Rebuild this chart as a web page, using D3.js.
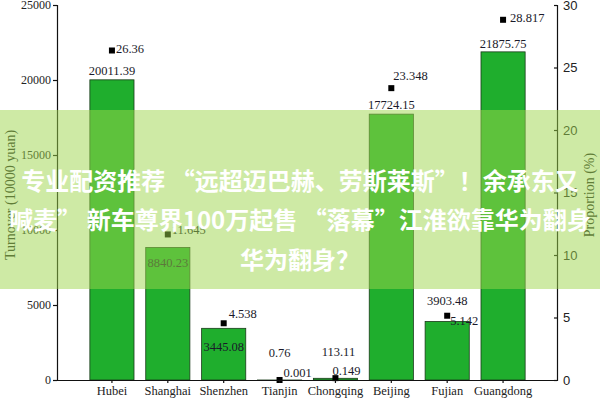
<!DOCTYPE html>
<html>
<head>
<meta charset="utf-8">
<script src="https://d3js.org/d3.v7.min.js"></script>
<style>
  body { margin: 0; background: #fff; }
  svg { display: block; }
  .tick text { fill: #222; }
</style>
</head>
<body>
<div id="chart"></div>
<script>
// data
const regions = ['Hubei', 'Shanghai', 'Shenzhen', 'Tianjin', 'Chongqing', 'Beijing', 'Fujian', 'Guangdong'];
const turnover = [20011.39, 8840.23, 3445.08, 0.76, 113.11, 17724.15, 3903.48, 21875.75];
const proportion = [26.36, 11.645, 4.538, 0.001, 0.149, 23.348, 5.142, 28.817];
const leftTicks = [0, 5000, 10000, 15000, 20000, 25000];
const rightTicks = [0, 5, 10, 15, 20, 25, 30];
const bannerLines = [
    '专业配资推荐 “远超迈巴赫、劳斯莱斯”！余承东又',
    '喊麦” 新车尊界100万起售 “落幕”江淮欲靠华为翻身',
    '华为翻身？'
];

// label nudges (the original placed them by hand)
const barLabelDx = [0, 0, 0, 0, 3, 0, 0, 0];
const barLabelDy = [-5, 20, 23, -23, -22, -5, -16, -4];
const ptLabelDx = [4, 4, 5, 4, -3, 2, 3, 7];
const ptLabelDy = [2, 0, -5, -3, -3, -8, 9, 2];

const width = 600, height = 400;
const plotLeft = 57, plotRight = 557, plotTop = 5, plotBottom = 380;

const svg = d3.select('#chart').append('svg')
    .attr('width', width)
    .attr('height', height);

const x = d3.scaleBand()
    .domain(regions)
    .range([84, 531])
    .paddingInner(0.21)
    .paddingOuter(0.105);

const yL = d3.scaleLinear().domain([0, 25000]).range([plotBottom, plotTop]);
const yR = d3.scaleLinear().domain([0, 30]).range([plotBottom, plotTop]);

const serif = '"Liberation Serif", "Times New Roman", serif';

// bars
svg.append('g')
    .selectAll('rect')
    .data(turnover)
    .join('rect')
    .attr('x', (d, i) => x(regions[i]))
    .attr('y', d => yL(d))
    .attr('width', x.bandwidth())
    .attr('height', d => plotBottom - yL(d))
    .attr('fill', '#1fae2d')
    .attr('stroke', '#1a3a1a')
    .attr('stroke-width', 0.8);

// bar value labels
svg.append('g')
    .selectAll('text')
    .data(turnover)
    .join('text')
    .attr('x', (d, i) => x(regions[i]) + x.bandwidth() / 2 + barLabelDx[i])
    .attr('y', (d, i) => yL(d) + barLabelDy[i])
    .attr('text-anchor', 'middle')
    .style('font-family', serif)
    .style('font-size', '12.5px')
    .attr('fill', '#1a1a2a')
    .text(d => d3.format('.2f')(d));

// proportion squares
svg.append('g')
    .selectAll('rect')
    .data(proportion)
    .join('rect')
    .attr('x', (d, i) => x(regions[i]) + x.bandwidth() / 2 - 3)
    .attr('y', d => yR(d) - 3)
    .attr('width', 6)
    .attr('height', 6)
    .attr('fill', '#000');

svg.append('g')
    .selectAll('text')
    .data(proportion)
    .join('text')
    .attr('x', (d, i) => x(regions[i]) + x.bandwidth() / 2 + ptLabelDx[i])
    .attr('y', (d, i) => yR(d) + ptLabelDy[i])
    .style('font-family', serif)
    .style('font-size', '12.5px')
    .attr('fill', '#1a1a2a')
    .text(d => String(d));

// axes
const axL = svg.append('g')
    .attr('transform', `translate(${plotLeft},0)`)
    .call(d3.axisLeft(yL).tickValues(leftTicks).tickSize(4).tickPadding(2).tickFormat(d3.format('d')));
axL.selectAll('text').style('font-family', serif).style('font-size', '12px');

const axR = svg.append('g')
    .attr('transform', `translate(${plotRight},0)`)
    .call(d3.axisRight(yR).tickValues(rightTicks).tickSize(-3).tickPadding(6));
axR.selectAll('text').style('font-family', 'Arial, "Liberation Sans", sans-serif').style('font-size', '13px');

const axB = svg.append('g')
    .attr('transform', `translate(0,${plotBottom})`)
    .call(d3.axisBottom(x).tickSize(3).tickPadding(3).tickSizeOuter(0));
axB.select('.domain').attr('d', `M${plotLeft},0.5H${plotRight}`);
axB.selectAll('text').style('font-family', serif).style('font-size', '12.5px');

svg.selectAll('.domain, .tick line').attr('stroke', '#111').attr('stroke-width', 1.2);

// axis titles
svg.append('text')
    .attr('transform', 'translate(15,195) rotate(-90)')
    .attr('text-anchor', 'middle')
    .style('font-family', serif)
    .style('font-size', '14px')
    .attr('fill', '#222')
    .text('Turnover (10000 yuan)');

svg.append('text')
    .attr('transform', 'translate(594,195) rotate(-90)')
    .attr('text-anchor', 'middle')
    .style('font-family', serif)
    .style('font-size', '14px')
    .attr('fill', '#222')
    .text('Proportion (%)');

// translucent banner with headline
svg.append('rect')
    .attr('x', 0)
    .attr('y', 110)
    .attr('width', width)
    .attr('height', 179)
    .attr('fill', 'rgba(157,214,75,0.5)');

svg.append('g')
    .selectAll('text')
    .data(bannerLines)
    .join('text')
    .attr('x', width / 2)
    .attr('y', (d, i) => [190, 229, 269][i])
    .attr('text-anchor', 'middle')
    .style('font-family', '"Noto Sans CJK SC", sans-serif')
    .style('font-weight', 'bold')
    .style('font-size', '24px')
    .attr('fill', '#fff')
    .text(d => d);
</script>
</body>
</html>
